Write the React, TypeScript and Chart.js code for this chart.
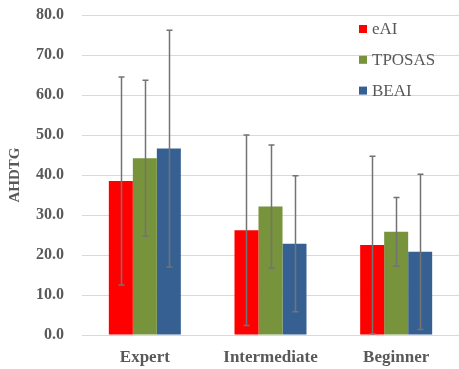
import React, { useEffect, useRef } from "react";
import { Chart, registerables } from "chart.js";

Chart.register(...registerables);

const categories = ["Expert", "Intermediate", "Beginner"];
const seriesNames = ["eAI", "TPOSAS", "BEAI"];
const seriesColors = ["#FF0000", "#77933C", "#376092"];

const eaiMean = [38.5, 26.2, 22.5];
const eaiSd = [26.0, 23.8, 22.2];
const tposasMean = [44.2, 32.1, 25.8];
const tposasSd = [19.5, 15.4, 8.6];
const beaiMean = [46.6, 22.8, 20.8];
const beaiSd = [29.6, 17.0, 19.4];

const means = [eaiMean, tposasMean, beaiMean];
const sds = [eaiSd, tposasSd, beaiSd];

const FONT = "'Times New Roman', 'Liberation Serif', serif";
const TEXT = "#595959";

// Standard-deviation whiskers over every bar
const errorBars = {
  id: "errorBars",
  afterDatasetsDraw(chart: any) {
    const { ctx } = chart;
    const y = chart.scales.y;
    ctx.save();
    ctx.strokeStyle = "#737373";
    ctx.lineWidth = 1.5;
    chart.data.datasets.forEach((ds: any, di: number) => {
      const meta = chart.getDatasetMeta(di);
      meta.data.forEach((bar: any, i: number) => {
        const m = ds.data[i];
        const s = ds.sd[i];
        const x = Math.round(bar.x) + 0.5;
        const yt = y.getPixelForValue(m + s);
        const yb = y.getPixelForValue(Math.max(0, m - s));
        ctx.beginPath();
        ctx.moveTo(x, yt);
        ctx.lineTo(x, yb);
        ctx.moveTo(x - 3, yt);
        ctx.lineTo(x + 3, yt);
        ctx.moveTo(x - 3, yb);
        ctx.lineTo(x + 3, yb);
        ctx.stroke();
      });
    });
    ctx.restore();
  },
};

// Vertical legend in the upper right of the plot
const innerLegend = {
  id: "innerLegend",
  afterDraw(chart: any) {
    const { ctx } = chart;
    ctx.save();
    ctx.font = `17px ${FONT}`;
    ctx.textBaseline = "middle";
    ctx.textAlign = "left";
    chart.data.datasets.forEach((ds: any, i: number) => {
      const cy = 29 + i * 30.8;
      ctx.fillStyle = ds.backgroundColor;
      ctx.fillRect(359, cy - 4, 8, 8);
      ctx.fillStyle = TEXT;
      ctx.fillText(ds.label, 372, cy + 1);
    });
    ctx.restore();
  },
};

export default function App() {
  const ref = useRef<HTMLCanvasElement>(null);

  useEffect(() => {
    document.body.style.margin = "0";
    const chart = new Chart(ref.current as HTMLCanvasElement, {
      type: "bar",
      data: {
        labels: categories,
        datasets: seriesNames.map((name, i) => ({
          label: name,
          data: means[i],
          sd: sds[i],
          backgroundColor: seriesColors[i],
          borderWidth: 0,
          categoryPercentage: 0.573,
          barPercentage: 1,
        })) as any,
      },
      options: {
        responsive: false,
        animation: false,
        layout: { padding: { top: 15, right: 0, left: 0, bottom: 0 } },
        plugins: {
          legend: { display: false },
          tooltip: { enabled: false },
        },
        scales: {
          x: {
            grid: { display: false, drawTicks: false },
            border: { display: true, color: "#D9D9D9" },
            ticks: {
              color: TEXT,
              padding: 12,
              font: { family: FONT, size: 17, weight: "bold" },
            },
            afterFit: (s: any) => {
              s.height = 34;
            },
          },
          y: {
            min: 0,
            max: 80,
            ticks: {
              stepSize: 10,
              color: TEXT,
              padding: 18,
              font: { family: FONT, size: 16, weight: "bold" },
              callback: (v: any) => Number(v).toFixed(1),
            },
            grid: { color: "#D9D9D9", lineWidth: 1, drawTicks: false },
            border: { display: false },
            title: {
              display: true,
              text: "AHDTG",
              color: TEXT,
              font: { family: FONT, size: 15, weight: "bold" },
              padding: { top: 6, bottom: 0 },
            },
            afterFit: (s: any) => {
              s.width = 82;
              s.paddingTop = 0;
              s.paddingBottom = 0;
            },
          },
        },
      },
      plugins: [errorBars, innerLegend],
    });
    return () => chart.destroy();
  }, []);

  return <canvas ref={ref} width={459} height={369} />;
}
